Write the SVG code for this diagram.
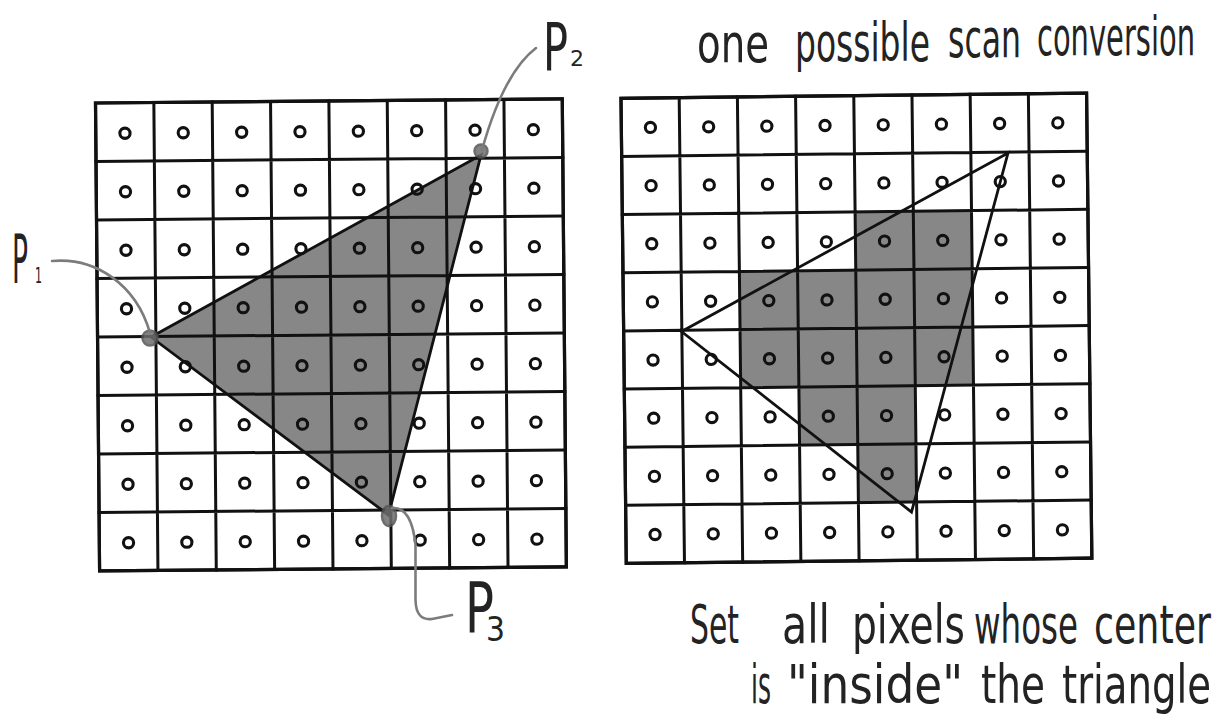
<svg xmlns="http://www.w3.org/2000/svg" xmlns:xlink="http://www.w3.org/1999/xlink" width="1214" height="725" viewBox="0 0 1214 725">
  <style>
    .grid { fill: none; stroke: #111; stroke-width: 3; stroke-linecap: square; }
    .frame { fill: #fff; stroke: #111; stroke-width: 3.2; }
    .dot { fill: none; stroke: #111; stroke-width: 3.1; }
    .shade { fill: #878787; stroke: none; }
    .tri { fill: none; stroke: #111; stroke-width: 2.8; stroke-linejoin: miter; }
    .smudge { fill: #6e6e6e; stroke: #555; stroke-width: 2.5; opacity: 0.85; }
    .leader { fill: none; stroke: #7c7c7c; stroke-width: 2.6; stroke-linecap: round; }
    .hand { font-family: "Liberation Sans Narrow", "DejaVu Sans Condensed", "Liberation Sans", sans-serif; fill: #232323; }
  </style>
  <defs>
    <g id="rowL">
      <circle class="dot" cx="29.2" cy="30.5" r="5.1"/>
      <circle class="dot" cx="87.5" cy="30.5" r="5.1"/>
      <circle class="dot" cx="145.9" cy="30.5" r="5.1"/>
      <circle class="dot" cx="204.2" cy="30.5" r="5.1"/>
      <circle class="dot" cx="262.6" cy="30.5" r="5.1"/>
      <circle class="dot" cx="320.9" cy="30.5" r="5.1"/>
      <circle class="dot" cx="379.3" cy="30.5" r="5.1"/>
      <circle class="dot" cx="437.6" cy="30.5" r="5.1"/>
    </g>
    <g id="rowR">
      <circle class="dot" cx="29.1" cy="29.5" r="5.1"/>
      <circle class="dot" cx="87.3" cy="29.5" r="5.1"/>
      <circle class="dot" cx="145.5" cy="29.5" r="5.1"/>
      <circle class="dot" cx="203.7" cy="29.5" r="5.1"/>
      <circle class="dot" cx="261.9" cy="29.5" r="5.1"/>
      <circle class="dot" cx="320.1" cy="29.5" r="5.1"/>
      <circle class="dot" cx="378.3" cy="29.5" r="5.1"/>
      <circle class="dot" cx="436.5" cy="29.5" r="5.1"/>
    </g>
  </defs>

  <rect x="0" y="0" width="1214" height="725" fill="#fff"/>

  <!-- Left grid: triangle with vertices P1, P2, P3 -->
  <g id="grid-left">
    <rect class="frame" x="0" y="0" width="466.8" height="468" transform="translate(95.5,103) rotate(-0.5)"/>
    <polygon class="shade" points="151,337 481,155 388.5,515"/>
    <g transform="translate(95.5,103) rotate(-0.5)">
      <path class="grid" d="M58.35,0V468M116.7,0V468M175.05,0V468M233.4,0V468M291.75,0V468M350.1,0V468M408.45,0V468M0,58.5H466.8M0,117H466.8M0,175.5H466.8M0,234H466.8M0,292.5H466.8M0,351H466.8M0,409.5H466.8"/>
      <rect x="0" y="0" width="466.8" height="468" fill="none" stroke="#111" stroke-width="3.2"/>
      <use xlink:href="#rowL" y="0"/>
      <use xlink:href="#rowL" y="58.5"/>
      <use xlink:href="#rowL" y="117"/>
      <use xlink:href="#rowL" y="175.5"/>
      <use xlink:href="#rowL" y="234"/>
      <use xlink:href="#rowL" y="292.5"/>
      <use xlink:href="#rowL" y="351"/>
      <use xlink:href="#rowL" y="409.5"/>
    </g>
    <polygon class="tri" points="151,337 481,155 388.5,515"/>
    <circle class="smudge" cx="150" cy="338" r="7.5"/>
    <circle class="smudge" cx="481" cy="151" r="6.5"/>
    <ellipse class="smudge" cx="389" cy="516" rx="7" ry="10"/>
  </g>

  <!-- Right grid: one possible scan conversion -->
  <g id="grid-right">
    <g transform="translate(621,98.3) rotate(-0.65)">
      <rect class="frame" x="0" y="0" width="465.6" height="465.2"/>
      <rect class="shade" x="232.8" y="116.3" width="116.4" height="58.15"/>
      <rect class="shade" x="116.4" y="174.45" width="232.8" height="116.3"/>
      <rect class="shade" x="174.6" y="290.75" width="116.4" height="58.15"/>
      <rect class="shade" x="232.8" y="348.9" width="58.2" height="58.15"/>
      <path class="grid" d="M58.2,0V465.2M116.4,0V465.2M174.6,0V465.2M232.8,0V465.2M291,0V465.2M349.2,0V465.2M407.4,0V465.2M0,58.15H465.6M0,116.3H465.6M0,174.45H465.6M0,232.6H465.6M0,290.75H465.6M0,348.9H465.6M0,407.05H465.6"/>
      <rect x="0" y="0" width="465.6" height="465.2" fill="none" stroke="#111" stroke-width="3.2"/>
      <use xlink:href="#rowR" y="0"/>
      <use xlink:href="#rowR" y="58.15"/>
      <use xlink:href="#rowR" y="116.3"/>
      <use xlink:href="#rowR" y="174.45"/>
      <use xlink:href="#rowR" y="232.6"/>
      <use xlink:href="#rowR" y="290.75"/>
      <use xlink:href="#rowR" y="348.9"/>
      <use xlink:href="#rowR" y="407.05"/>
    </g>
    <polygon class="tri" points="681.5,331.5 1008,153 911.5,512"/>
  </g>

  <!-- Leader lines -->
  <g id="connectors">
    <path class="leader" d="M52,261 C95,257 136,284 150,333"/>
    <path class="leader" d="M536,48 C515,64 496,100 482,150"/>
    <path class="leader" d="M392,508 C405,507 413,520 415.5,545 L415.5,600 Q416,621 432,619 L452,615"/>
  </g>

  <!-- Labels -->
  <g id="label-p1" class="hand">
    <text x="12" y="283" font-size="68" textLength="16" lengthAdjust="spacingAndGlyphs">P</text>
    <text x="35" y="283" font-size="22" textLength="7" lengthAdjust="spacingAndGlyphs">1</text>
  </g>
  <g id="label-p2" class="hand">
    <text x="543" y="70" font-size="66" textLength="25" lengthAdjust="spacingAndGlyphs">P</text>
    <text x="570" y="66" font-size="22" textLength="14" lengthAdjust="spacingAndGlyphs">2</text>
  </g>
  <g id="label-p3" class="hand">
    <text x="465" y="632" font-size="70" textLength="29" lengthAdjust="spacingAndGlyphs">P</text>
    <text x="486" y="641" font-size="34" textLength="19" lengthAdjust="spacingAndGlyphs">3</text>
  </g>

  <g id="caption-top" class="hand" font-size="54">
    <text x="697" y="62" textLength="72" lengthAdjust="spacingAndGlyphs">one</text>
    <text x="795" y="61" textLength="135" lengthAdjust="spacingAndGlyphs">possible</text>
    <text x="948" y="57" textLength="73" lengthAdjust="spacingAndGlyphs">scan</text>
    <text x="1037" y="55" textLength="158" lengthAdjust="spacingAndGlyphs">conversion</text>
  </g>

  <g id="caption-bottom" class="hand" font-size="54">
    <text x="690" y="643" textLength="49" lengthAdjust="spacingAndGlyphs">Set</text>
    <text x="782" y="643" textLength="48" lengthAdjust="spacingAndGlyphs">all</text>
    <text x="852" y="643" textLength="113" lengthAdjust="spacingAndGlyphs">pixels</text>
    <text x="974" y="643" textLength="104" lengthAdjust="spacingAndGlyphs">whose</text>
    <text x="1094" y="643" textLength="117" lengthAdjust="spacingAndGlyphs">center</text>
    <text x="751" y="703" textLength="20" lengthAdjust="spacingAndGlyphs">is</text>
    <text x="787" y="703" textLength="176" lengthAdjust="spacingAndGlyphs">"inside"</text>
    <text x="981" y="703" textLength="64" lengthAdjust="spacingAndGlyphs">the</text>
    <text x="1062" y="703" textLength="149" lengthAdjust="spacingAndGlyphs">triangle</text>
  </g>
</svg>
